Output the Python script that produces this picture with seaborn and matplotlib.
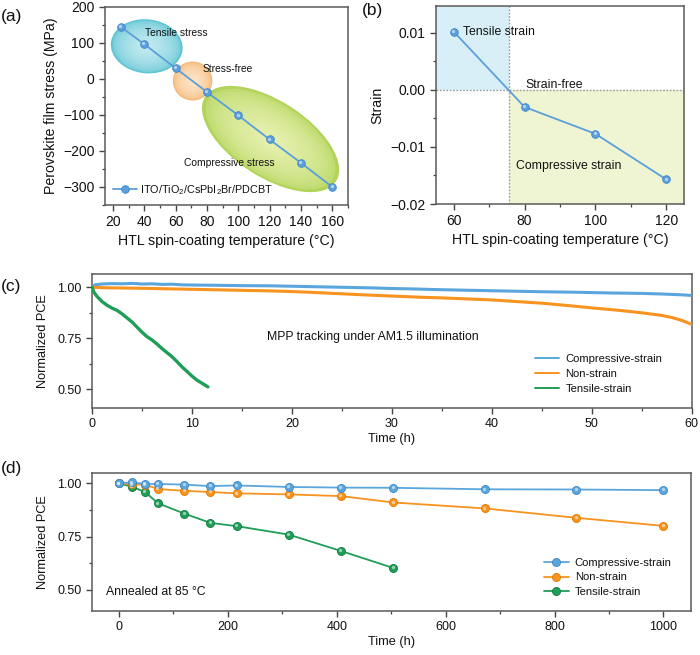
import numpy as np
import pandas as pd
import matplotlib
matplotlib.use("Agg")
import matplotlib.pyplot as plt
import matplotlib.transforms as mtransforms
from matplotlib.patches import Ellipse
from matplotlib.ticker import MultipleLocator, FuncFormatter
from matplotlib.colors import to_rgb
import seaborn as sns

# ---------------- data ----------------
# (a) stress vs HTL temperature
temp_a = [25, 40, 60, 80, 100, 120, 140, 160]
stress_a = [145, 97, 30, -36, -101, -168, -233, -300]

# (b) strain vs HTL temperature
temp_b = [60, 80, 100, 120]
strain_b = [0.0102, -0.0030, -0.0077, -0.0157]
strain_free_temp = 75.5

# (c) MPP tracking
t_comp_c = [0, 0.3, 1, 2, 3, 4, 5, 6, 7, 8, 9, 10, 12, 15, 18, 20, 22, 25, 28, 30, 32, 35, 38, 40,
            42, 45, 48, 50, 52, 55, 57, 58, 59, 60]
pce_comp_c = [1.000, 1.012, 1.016, 1.018, 1.017, 1.019, 1.016, 1.017, 1.014, 1.015, 1.012, 1.011, 1.010,
              1.008, 1.007, 1.005, 1.003, 1.000, 0.997, 0.994, 0.992, 0.988, 0.985, 0.983,
              0.981, 0.978, 0.976, 0.974, 0.972, 0.970, 0.967, 0.965, 0.963, 0.960]
t_non_c = [0, 1, 2, 5, 8, 10, 12, 15, 18, 20, 22, 25, 28, 30, 33, 35, 38, 40, 42.5, 45, 47.5, 50,
           52.5, 55, 57, 58, 59, 60]
pce_non_c = [1.000, 0.998, 0.997, 0.995, 0.992, 0.990, 0.988, 0.985, 0.982, 0.979, 0.975, 0.968,
             0.961, 0.957, 0.951, 0.948, 0.942, 0.938, 0.930, 0.922, 0.911, 0.899, 0.888, 0.875,
             0.862, 0.852, 0.838, 0.818]
t_ten_c = [0, 0.2, 0.5, 1.0, 1.5, 2.0, 2.5, 3.0, 3.5, 4.0, 4.5, 5.0, 5.5, 6.0, 6.5, 7.0, 7.5, 8.0,
           8.5, 9.0, 9.5, 10.0, 10.5, 11.0, 11.6]
pce_ten_c = [1.000, 0.975, 0.955, 0.930, 0.912, 0.898, 0.887, 0.870, 0.850, 0.830, 0.805, 0.780,
             0.758, 0.742, 0.722, 0.700, 0.680, 0.660, 0.636, 0.610, 0.588, 0.565, 0.545, 0.530, 0.512]

# (d) annealing at 85 C
t_d = [0, 24, 48, 72, 120, 168, 216, 312, 408, 504, 672, 840, 1000]
pce_comp_d = [1.000, 1.005, 0.997, 0.997, 0.994, 0.987, 0.990, 0.983, 0.980, 0.979, 0.972, 0.971, 0.968]
pce_non_d = [1.000, 0.995, 0.994, 0.973, 0.965, 0.959, 0.953, 0.948, 0.940, 0.910, 0.882, 0.838, 0.800]
t_ten_d = [0, 24, 48, 72, 120, 168, 216, 312, 408, 504]
pce_ten_d = [1.000, 0.984, 0.959, 0.906, 0.858, 0.814, 0.799, 0.759, 0.682, 0.602]

series_labels = ["Compressive-strain", "Non-strain", "Tensile-strain"]

# ---------------- style ----------------
sns.set_theme(style="ticks")
plt.rcParams['font.family'] = ['Liberation Sans', 'DejaVu Sans']
plt.rcParams.update({
    'mathtext.fontset': 'custom',
    'mathtext.rm': 'Liberation Sans',
    'mathtext.it': 'Liberation Sans:italic',
    'mathtext.bf': 'Liberation Sans:bold',
    'axes.edgecolor': '#555555', 'axes.linewidth': 1.1,
    'xtick.color': '#444444', 'ytick.color': '#444444',
    'xtick.labelcolor': '#111111', 'ytick.labelcolor': '#111111',
    'xtick.major.size': 4, 'ytick.major.size': 4,
    'xtick.minor.size': 2.5, 'ytick.minor.size': 2.5,
    'xtick.major.width': 1.0, 'ytick.major.width': 1.0,
    'xtick.minor.width': 0.9, 'ytick.minor.width': 0.9,
    'xtick.direction': 'out', 'ytick.direction': 'out',
    'text.color': '#111111', 'axes.labelcolor': '#111111',
})

BLUE = '#5b9fdb'
BLUE_C = '#5aa6dc'
ORANGE = '#f7931e'
GREEN = '#1f9e57'

fmt2 = FuncFormatter(lambda v, p: f"{v:.2f}".replace('-', '\u2212'))

fig = plt.figure(figsize=(7.0, 6.55), dpi=100)
W, H = 700.0, 655.0


def add_ax(left, top, right, bottom):
    return fig.add_axes([left / W, 1 - bottom / H, (right - left) / W, (bottom - top) / H])


ax_a = add_ax(105, 7, 348, 205)
ax_b = add_ax(436, 6, 684, 204)
ax_c = add_ax(92, 274, 691.7, 407.7)
ax_d = add_ax(91.7, 472.7, 690.7, 611)


def glossy(ax, x, y, color, ms=5.2, z=5):
    # highlight on spherical markers
    off = mtransforms.ScaledTranslation(-0.7 / 100, 0.7 / 100, fig.dpi_scale_trans)
    ax.plot(x, y, ls='none', marker='o', ms=ms * 0.45, mfc='white', mec='none', alpha=0.55,
            transform=ax.transData + off, zorder=z + 1)


def grad_ellipse(ax, cx, cy, w_in, h_in, angle, c_edge, c_center, n=16):
    ce = np.array(to_rgb(c_edge))
    cc = np.array(to_rgb(c_center))
    tr = fig.dpi_scale_trans + mtransforms.ScaledTranslation(cx, cy, ax.transData)
    for k in range(n):
        f = k / (n - 1)
        s = 1.0 - 0.8 * f
        col = ce + (cc - ce) * (f ** 0.45)
        ax.add_patch(Ellipse((0, 0), w_in * s, h_in * s, angle=angle, transform=tr,
                             facecolor=col, edgecolor='none', zorder=1))


def frame(ax):
    for sp in ax.spines.values():
        sp.set_visible(True)
        sp.set_color('#5a5a5a')
        sp.set_linewidth(1.1)
    ax.tick_params(which='both', top=False, right=False)

# ---------------- (a) ----------------
ax = ax_a
ax.set_xlim(15, 170)
ax.set_ylim(-350, 200)
grad_ellipse(ax, 41.6, 90.8, 0.72, 0.54, -6, '#5ec4d3', '#bde8ef')
grad_ellipse(ax, 70.9, -5.6, 0.395, 0.39, 0, '#f3b775', '#fde2c2')
grad_ellipse(ax, 120.6, -166.7, 1.56, 0.76, -33, '#b2d45a', '#e3efaa')
sns.lineplot(x=temp_a, y=stress_a, ax=ax, color=BLUE, lw=1.3, marker='o', ms=5.5,
             mfc=BLUE, mec='#3f86c9', mew=0.6, zorder=5, label="ITO/TiO$_2$/CsPbI$_2$Br/PDCBT")
glossy(ax, temp_a, stress_a, BLUE)
ax.text(40.4, 127.8, "Tensile stress", fontsize=7.4, ha='left', va='center', zorder=6)
ax.text(77.3, 27.8, "Stress-free", fontsize=7.4, ha='left', va='center', zorder=6)
ax.text(65.2, -233, "Compressive stress", fontsize=7.4, ha='left', va='center', zorder=6)
ax.xaxis.set_major_locator(MultipleLocator(20))
ax.xaxis.set_minor_locator(MultipleLocator(10))
ax.yaxis.set_major_locator(MultipleLocator(100))
ax.yaxis.set_minor_locator(MultipleLocator(50))
ax.tick_params(labelsize=10)
ax.set_xlabel("HTL spin-coating temperature (°C)", fontsize=10.2, labelpad=3)
ax.set_ylabel("Perovskite film stress (MPa)", fontsize=10.2, labelpad=4)
ax.legend(loc='lower left', frameon=False, fontsize=7.8, handlelength=2.2, handletextpad=0.3,
          borderaxespad=0.35, bbox_to_anchor=(0.0, 0.0))
frame(ax)

# ---------------- (b) ----------------
ax = ax_b
ax.set_xlim(55, 125)
ax.set_ylim(-0.02, 0.0147)
ax.fill_between([55, strain_free_temp], 0, 0.0147, color='#d8eff8', lw=0, zorder=0)
ax.fill_between([strain_free_temp, 125], -0.02, 0, color='#eff5d3', lw=0, zorder=0)
ax.axhline(0, color='#9a9a9a', ls=(0, (1.2, 1.2)), lw=1.0, zorder=1)
ax.axvline(strain_free_temp, color='#9a9a9a', ls=(0, (1.2, 1.2)), lw=1.0, zorder=1)
sns.lineplot(x=temp_b, y=strain_b, ax=ax, color=BLUE, lw=1.3, marker='o', ms=5.5,
             mfc=BLUE, mec='#3f86c9', mew=0.6, zorder=5)
glossy(ax, temp_b, strain_b, BLUE)
ax.text(62.6, 0.0101, "Tensile strain", fontsize=8.8, ha='left', va='center')
ax.text(80.35, 0.00087, "Strain-free", fontsize=8.8, ha='left', va='center')
ax.text(77.5, -0.01326, "Compressive strain", fontsize=8.8, ha='left', va='center')
ax.xaxis.set_major_locator(MultipleLocator(20))
ax.xaxis.set_minor_locator(MultipleLocator(10))
ax.yaxis.set_major_locator(MultipleLocator(0.01))
ax.yaxis.set_minor_locator(MultipleLocator(0.005))
ax.yaxis.set_major_formatter(fmt2)
ax.tick_params(labelsize=10)
ax.set_xlabel("HTL spin-coating temperature (°C)", fontsize=10.2, labelpad=3)
ax.set_ylabel("Strain", fontsize=10.2, labelpad=4)
frame(ax)

# ---------------- (c) ----------------
ax = ax_c
ax.set_xlim(0, 60)
ax.set_ylim(0.41, 1.065)
sns.lineplot(x=t_comp_c, y=pce_comp_c, ax=ax, color=BLUE_C, lw=2.2, label=series_labels[0], zorder=3)
sns.lineplot(x=t_non_c, y=pce_non_c, ax=ax, color=ORANGE, lw=2.2, label=series_labels[1], zorder=4)
sns.lineplot(x=t_ten_c, y=pce_ten_c, ax=ax, color=GREEN, lw=2.4, label=series_labels[2], zorder=5)
ax.text(17.5, 0.756, "MPP tracking under AM1.5 illumination", fontsize=8.8, ha='left', va='center')
ax.xaxis.set_major_locator(MultipleLocator(10))
ax.xaxis.set_minor_locator(MultipleLocator(5))
ax.yaxis.set_major_locator(MultipleLocator(0.25))
ax.yaxis.set_minor_locator(MultipleLocator(0.125))
ax.yaxis.set_major_formatter(fmt2)
ax.tick_params(labelsize=9)
ax.set_xlabel("Time (h)", fontsize=9.2, labelpad=2)
ax.set_ylabel("Normalized PCE", fontsize=9.2, labelpad=6)
leg = ax.legend(loc='lower right', frameon=False, fontsize=8.1, handlelength=2.2, handletextpad=0.55,
                labelspacing=0.42, bbox_to_anchor=(0.968, 0.03))
for h in leg.get_lines():
    h.set_linewidth(1.4)
frame(ax)

# ---------------- (d) ----------------
ax = ax_d
ax.set_xlim(-50, 1050)
ax.set_ylim(0.40, 1.05)
for tx, ty, col, ec, lab, z in [(t_d, pce_comp_d, BLUE_C, '#3f86c9', series_labels[0], 5),
                                (t_d, pce_non_d, ORANGE, '#e07b00', series_labels[1], 4),
                                (t_ten_d, pce_ten_d, GREEN, '#137a40', series_labels[2], 3)]:
    sns.lineplot(x=tx, y=ty, ax=ax, color=col, lw=1.3, marker='o', ms=5.8, mfc=col, mec=ec,
                 mew=0.6, label=lab, zorder=z)
    glossy(ax, tx, ty, col, z=z)
ax.text(-24.4, 0.489, "Annealed at 85 °C", fontsize=8.8, ha='left', va='center')
ax.xaxis.set_major_locator(MultipleLocator(200))
ax.xaxis.set_minor_locator(MultipleLocator(100))
ax.yaxis.set_major_locator(MultipleLocator(0.25))
ax.yaxis.set_minor_locator(MultipleLocator(0.125))
ax.yaxis.set_major_formatter(fmt2)
ax.tick_params(labelsize=9)
ax.set_xlabel("Time (h)", fontsize=9.2, labelpad=2)
ax.set_ylabel("Normalized PCE", fontsize=9.2, labelpad=6)
ax.legend(loc='lower right', frameon=False, fontsize=8.1, handlelength=2.2, handletextpad=0.55,
          labelspacing=0.38, bbox_to_anchor=(0.985, 0.03))
frame(ax)

# panel labels
fig.text(1 / W, 1 - 17 / H, "(a)", fontsize=12.5, ha='left', va='center')
fig.text(362 / W, 1 - 11 / H, "(b)", fontsize=12.5, ha='left', va='center')
fig.text(1 / W, 1 - 287 / H, "(c)", fontsize=12.5, ha='left', va='center')
fig.text(1 / W, 1 - 469 / H, "(d)", fontsize=12.5, ha='left', va='center')

fig.savefig("out.png", dpi=100)
